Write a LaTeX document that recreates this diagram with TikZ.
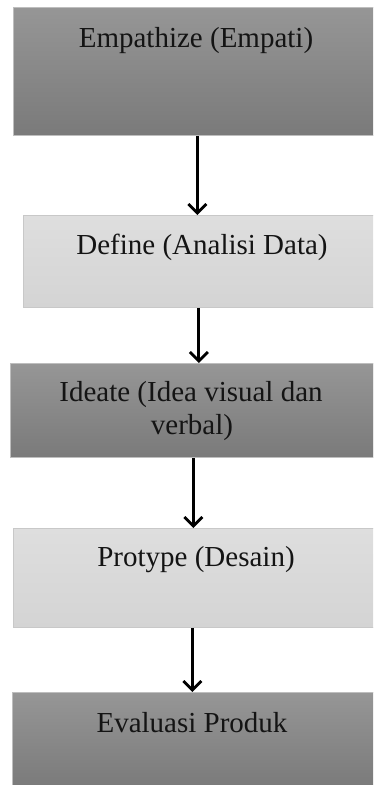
\documentclass[tikz,border=0pt]{standalone}
\usepackage{fontspec}
\setmainfont{Liberation Serif}
\usetikzlibrary{arrows.meta}
\definecolor{darktop}{RGB}{150,150,150}
\definecolor{darkbot}{RGB}{122,122,122}
\definecolor{darkedge}{RGB}{190,190,190}
\definecolor{lighttop}{RGB}{222,222,222}
\definecolor{lightbot}{RGB}{212,212,212}
\definecolor{lightedge}{RGB}{200,200,200}
\tikzset{
  darkbox/.style={rectangle, anchor=north west, inner sep=0pt,
    top color=darktop, bottom color=darkbot, draw=darkedge, line width=0.8pt},
  lightbox/.style={rectangle, anchor=north west, inner sep=0pt,
    top color=lighttop, bottom color=lightbot, draw=lightedge, line width=0.8pt},
  lbl/.style={anchor=base, inner sep=0pt, text=black!92,
    font=\fontsize{29}{33}\selectfont},
  flow/.style={line width=3pt, black,
    -{Straight Barb[length=9pt, width=18pt, line width=2.8pt]}}
}
\begin{document}
\begin{tikzpicture}[x=1pt, y=-1pt]
\useasboundingbox (0,0) rectangle (373,785);
\fill[white] (0,0) rectangle (373,785);
\clip (0,0) rectangle (373,785);

% process boxes
\node[darkbox,  minimum width=366pt, minimum height=128pt] (b1) at (13,7)   {};
\node[lightbox, minimum width=359pt, minimum height=92pt]  (b2) at (23,215) {};
\node[darkbox,  minimum width=363pt, minimum height=94pt]  (b3) at (10,363) {};
\node[lightbox, minimum width=366pt, minimum height=99pt]  (b4) at (13,528) {};
\node[darkbox,  minimum width=362pt, minimum height=96pt]  (b5) at (12,692) {};

% labels
\node[lbl] (t1)  at (196,47)  {Empathize (Empati)};
\node[lbl] (t2)  at (202,254) {Define (Analisi Data)};
\node[lbl] (t3a) at (191,401) {Ideate (Idea visual dan};
\node[lbl] (t3b) at (192,434) {verbal)};
\node[lbl] (t4)  at (196,566) {Protype (Desain)};
\node[lbl] (t5)  at (192,732) {Evaluasi Produk};

% connectors
\draw[flow] ([xshift=1pt]b1.south)  -- ([xshift=1pt]b1.south  |- b2.north);
\draw[flow] ([xshift=-4pt]b2.south) -- ([xshift=-4pt]b2.south |- b3.north);
\draw[flow] ([xshift=1.5pt]b3.south) -- ([xshift=1.5pt]b3.south |- b4.north);
\draw[flow] ([xshift=-4pt]b4.south) -- ([xshift=-4pt]b4.south |- b5.north);
\end{tikzpicture}
\end{document}
